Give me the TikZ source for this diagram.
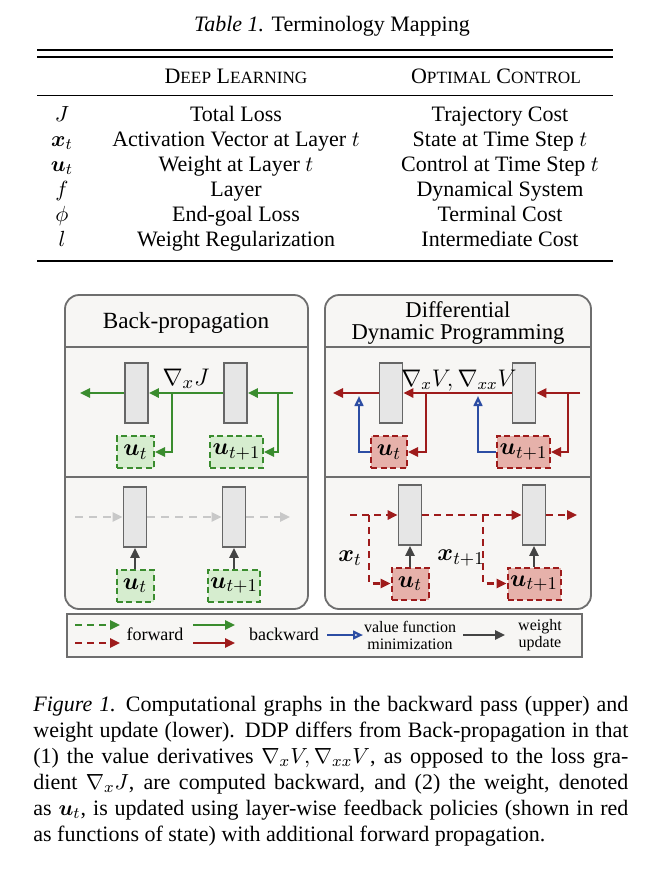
\documentclass[tikz,border=0pt]{standalone}
\usepackage{amsmath}
\usepackage[no-math]{fontspec}
\setmainfont{Liberation Serif}
\usetikzlibrary{arrows.meta}
\definecolor{grn}{HTML}{3A8C2E}
\definecolor{grnfill}{HTML}{D6EDCF}
\definecolor{rd}{HTML}{9E1B1B}
\definecolor{rdfill}{HTML}{E6B1AA}
\definecolor{blu}{HTML}{2C4DA3}
\definecolor{blkfill}{HTML}{E6E6E6}
\definecolor{blkdraw}{HTML}{666666}
\definecolor{panfill}{HTML}{F7F6F4}
\definecolor{pandraw}{HTML}{6E6E6E}
\definecolor{fgray}{HTML}{C8C8C8}
\definecolor{dgray}{HTML}{444444}
\newcommand\mysc[1]{{\fontsize{8.6}{10}\selectfont #1}}
\tikzset{
  blk/.style={draw=blkdraw, fill=blkfill, line width=0.9pt, minimum width=11.5pt, minimum height=30pt, inner sep=0pt},
  ubox/.style={line width=1pt, dash pattern=on 3pt off 1.8pt, minimum height=16pt, inner sep=1pt, font=\fontsize{12.5}{14}\selectfont},
  ugrn/.style={ubox, draw=grn, fill=grnfill},
  ured/.style={ubox, draw=rd, fill=rdfill},
  tip/.style={-{Triangle[length=5pt,width=4.6pt]}},
  bwg/.style={tip, draw=grn, line width=1.15pt},
  bwr/.style={tip, draw=rd, line width=1.15pt},
  fwg/.style={bwg, dash pattern=on 3.5pt off 2.5pt},
  fwr/.style={bwr, dash pattern=on 3.5pt off 2.5pt},
  fwgray/.style={tip, draw=fgray, line width=1.1pt, dash pattern=on 4pt off 3pt},
  upd/.style={tip, draw=dgray, line width=1.1pt},
  val/.style={-{Triangle[open,length=5pt,width=4.4pt]}, draw=blu, line width=1.1pt},
  panel/.style={draw=pandraw, fill=panfill, line width=0.9pt},
  panline/.style={draw=pandraw, line width=0.9pt},
  ptitle/.style={font=\fontsize{11.6}{13}\selectfont},
  mlab/.style={font=\fontsize{12.5}{14}\selectfont},
  leg/.style={font=\fontsize{9}{10}\selectfont},
  legs/.style={font=\fontsize{8}{8.5}\selectfont, align=center},
}
\begin{document}
\begin{tikzpicture}[x=0.5pt,y=-0.5pt, font=\fontsize{11}{13}\selectfont, every node/.append style={inner sep=0pt}]
\path[use as bounding box] (0,0) rectangle (667,869);

% ---------------- Table ----------------
\node[anchor=base] (ttl) at (332,31) {\textit{Table 1.} Terminology Mapping};
\draw[line width=1pt] (37,50) -- (613,50);
\draw[line width=1pt] (37,57) -- (613,57);
\node[anchor=base] (h2) at (236,83) {D\mysc{EEP} L\mysc{EARNING}};
\node[anchor=base] (h3) at (496,83) {O\mysc{PTIMAL} C\mysc{ONTROL}};
\draw[line width=0.5pt] (37,95) -- (613,95);
\node[anchor=base] (s1) at (62,121) {$J$};
\node[anchor=base] (d1) at (236,121) {Total Loss};
\node[anchor=base] (o1) at (500,121) {Trajectory Cost};
\node[anchor=base] (s2) at (62,146) {$\boldsymbol{x}_t$};
\node[anchor=base] (d2) at (236,146) {Activation Vector at Layer $t$};
\node[anchor=base] (o2) at (500,146) {State at Time Step $t$};
\node[anchor=base] (s3) at (62,171) {$\boldsymbol{u}_t$};
\node[anchor=base] (d3) at (236,171) {Weight at Layer $t$};
\node[anchor=base] (o3) at (500,171) {Control at Time Step $t$};
\node[anchor=base] (s4) at (62,196) {$f$};
\node[anchor=base] (d4) at (236,196) {Layer};
\node[anchor=base] (o4) at (500,196) {Dynamical System};
\node[anchor=base] (s5) at (62,221) {$\phi$};
\node[anchor=base] (d5) at (236,221) {End-goal Loss};
\node[anchor=base] (o5) at (500,221) {Terminal Cost};
\node[anchor=base] (s6) at (62,246) {$l$};
\node[anchor=base] (d6) at (236,246) {Weight Regularization};
\node[anchor=base] (o6) at (500,246) {Intermediate Cost};
\draw[line width=0.9pt] (37,261) -- (613,261);

% ---------------- Panels ----------------
\draw[panel, rounded corners=7pt] (65,295) rectangle (308,609);
\draw[panline] (65,347) -- (308,347);
\draw[panline] (65,477) -- (308,477);
\draw[panel, rounded corners=7pt] (325,295) rectangle (591,609);
\draw[panline] (325,347) -- (591,347);
\draw[panline] (325,477) -- (591,477);
\node[anchor=base, ptitle] (tbp) at (186,328) {Back-propagation};
\node[align=center, font=\fontsize{11.3}{11}\selectfont] (tdd) at (458,322.5) {Differential\\Dynamic Programming};

% ---- upper left: back-propagation backward pass
\node[blk] (A1) at (136.5,393) {};
\node[blk] (A2) at (235.5,393) {};
\node[ugrn, minimum width=18.5pt] (uA1) at (135.5,452) {$\boldsymbol{u}_t$};
\node[ugrn, minimum width=26.5pt] (uA2) at (236.5,452) {$\boldsymbol{u}_{t+1}$};
\coordinate (A0) at (80,393);
\coordinate (A3) at (293,393);
\coordinate (jA1) at (172,393);
\coordinate (jA2) at (278,393);
\draw[bwg] (A3) -- (A2);
\draw[bwg] (A2) -- (A1);
\draw[bwg] (A1) -- (A0);
\draw[bwg] (jA1) |- (uA1);
\draw[bwg] (jA2) |- (uA2);
\node[anchor=base, mlab] (lA) at (186,385) {$\nabla_{x} J$};

% ---- upper right: DDP backward pass
\node[blk] (B1) at (391,393) {};
\node[blk] (B2) at (524,393) {};
\node[ured, minimum width=18pt] (uB1) at (389,452) {$\boldsymbol{u}_t$};
\node[ured, minimum width=26.5pt] (uB2) at (523.5,452) {$\boldsymbol{u}_{t+1}$};
\coordinate (B0) at (333,393);
\coordinate (B3) at (580,393);
\coordinate (jB1) at (426,393);
\coordinate (jB2) at (568,393);
\coordinate (vB1) at (359,396);
\coordinate (vB2) at (478,396);
\draw[bwr] (B3) -- (B2);
\draw[bwr] (B2) -- (B1);
\draw[bwr] (B1) -- (B0);
\draw[bwr] (jB1) |- (uB1);
\draw[bwr] (jB2) |- (uB2);
\draw[val] (uB1) -| (vB1);
\draw[val] (uB2) -| (vB2);
\node[anchor=base, font=\fontsize{12}{14}\selectfont] (lB) at (459,386) {$\nabla_x V, \nabla_{xx} V$};

% ---- lower left: back-propagation weight update
\node[blk] (C1) at (135,517) {};
\node[blk] (C2) at (234,517) {};
\node[ugrn, minimum width=18.5pt] (uC1) at (135,585.5) {$\boldsymbol{u}_t$};
\node[ugrn, minimum width=26pt] (uC2) at (234,585.5) {$\boldsymbol{u}_{t+1}$};
\coordinate (C0) at (75,517);
\coordinate (C3) at (290,517);
\draw[fwgray] (C0) -- (C1);
\draw[fwgray] (C1) -- (C2);
\draw[fwgray] (C2) -- (C3);
\draw[upd] (uC1) -- (C1);
\draw[upd] (uC2) -- (C2);

% ---- lower right: DDP weight update
\node[blk] (D1) at (410,515) {};
\node[blk] (D2) at (534,515) {};
\node[ured, minimum width=18.5pt] (uD1) at (410,583.5) {$\boldsymbol{u}_t$};
\node[ured, minimum width=26.5pt] (uD2) at (534,583.5) {$\boldsymbol{u}_{t+1}$};
\coordinate (D0) at (350,515);
\coordinate (D3) at (577,515);
\coordinate (jD1) at (369,515);
\coordinate (jD2) at (483,515);
\draw[fwr] (D0) -- (D1);
\draw[fwr] (D1) -- (D2);
\draw[fwr] (D2) -- (D3);
\draw[fwr] (jD1) |- (uD1);
\draw[fwr] (jD2) |- (uD2);
\draw[upd] (uD1) -- (D1);
\draw[upd] (uD2) -- (D2);
\node[mlab] (lx1) at (350,558) {$\boldsymbol{x}_t$};
\node[mlab] (lx2) at (461,558) {$\boldsymbol{x}_{t+1}$};

% ---------------- Legend ----------------
\draw[draw=pandraw, fill=panfill, line width=1pt] (67,614) rectangle (582,657);
\coordinate (g1a) at (75,625);  \coordinate (g1b) at (120,625);
\coordinate (r1a) at (75,643);  \coordinate (r1b) at (120,643);
\coordinate (g2a) at (193,625); \coordinate (g2b) at (235,625);
\coordinate (r2a) at (193,643); \coordinate (r2b) at (235,643);
\coordinate (b1a) at (327,635); \coordinate (b1b) at (363,635);
\coordinate (k1a) at (463,635); \coordinate (k1b) at (505,635);
\draw[fwg] (g1a) -- (g1b);
\draw[fwr] (r1a) -- (r1b);
\draw[bwg] (g2a) -- (g2b);
\draw[bwr] (r2a) -- (r2b);
\draw[val] (b1a) -- (b1b);
\draw[upd] (k1a) -- (k1b);
\node[leg] (lf) at (155,634) {forward};
\node[leg] (lb) at (284,634) {backward};
\node[legs] (lv) at (410,635) {value function\\minimization};
\node[legs] (lw) at (540,635) {weight\\update};

% ---------------- Caption ----------------
\node[anchor=north west, text width=297.5pt, align=justify] (cap) at (33,696) {%
\textit{Figure 1.}\hspace{0.45em}Computational graphs in the backward pass (upper) and\linebreak
weight update (lower). DDP differs from Back-propagation in that\linebreak
(1) the value derivatives $\nabla_x V, \nabla_{xx} V$, as opposed to the loss gra-\linebreak
dient $\nabla_x J$, are computed backward, and (2) the weight, denoted\linebreak
as $\boldsymbol{u}_t$, is updated using layer-wise feedback policies (shown in red\linebreak
as functions of state) with additional forward propagation.};
\end{tikzpicture}
\end{document}
